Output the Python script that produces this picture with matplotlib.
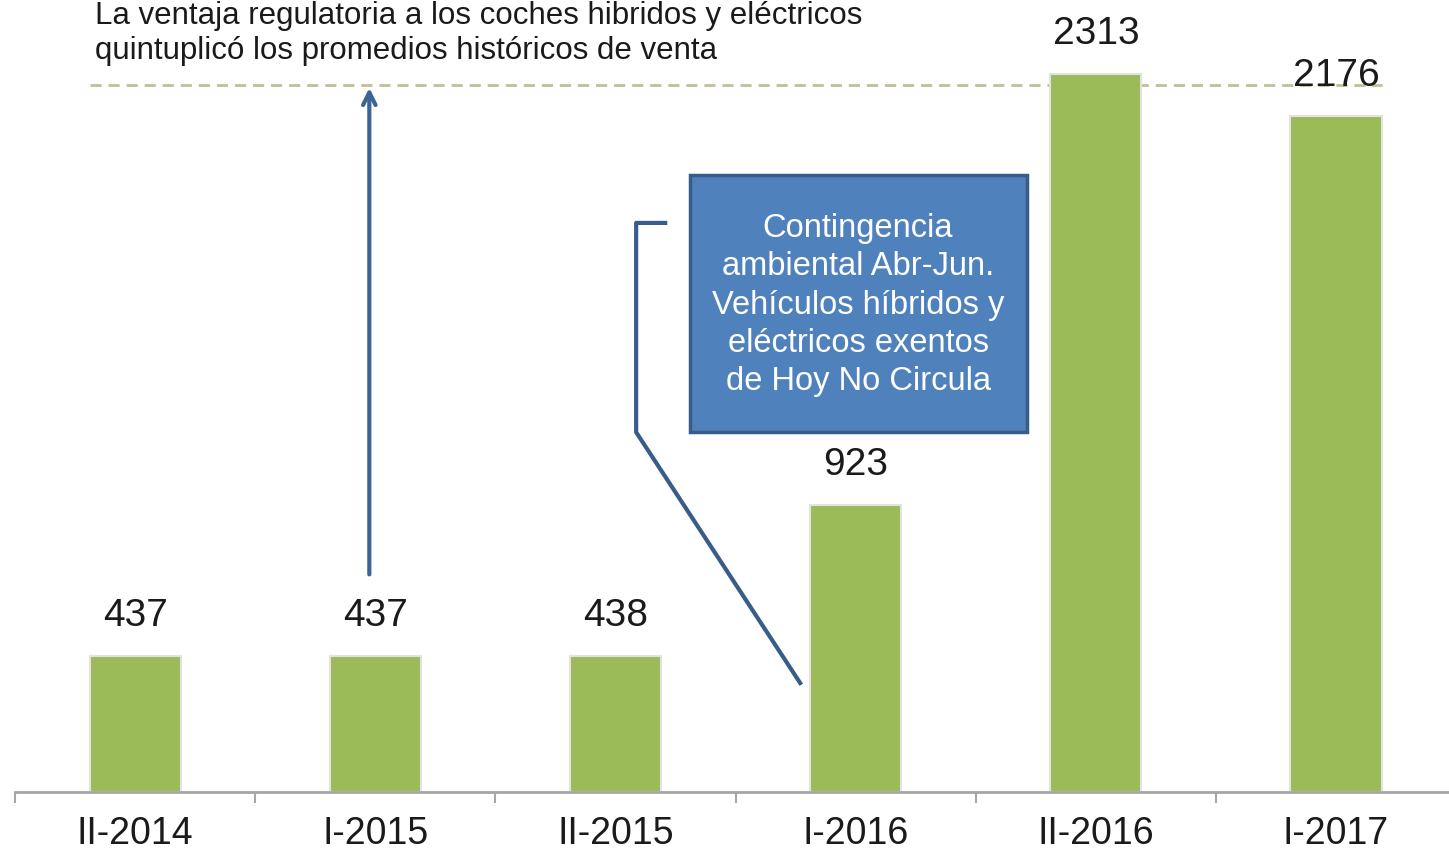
import matplotlib.pyplot as plt
import matplotlib.patches as mpatches

# ventas de híbridos y eléctricos por semestre
periodos = ["II-2014", "I-2015", "II-2015", "I-2016", "II-2016", "I-2017"]
ventas = [437, 437, 438, 923, 2313, 2176]

linea_ref = 2277  # nivel de la línea punteada (5x el promedio histórico)
titulo = "La ventaja regulatoria a los coches hibridos y eléctricos\nquintuplicó los promedios históricos de venta"
nota = "Contingencia\nambiental Abr-Jun.\nVehículos híbridos y\neléctricos exentos\nde Hoy No Circula"

plt.rcParams['font.family'] = ['Liberation Sans', 'DejaVu Sans']

fig = plt.figure(figsize=(14.49, 8.52), dpi=100)
ax = fig.add_axes([0.0104, 0.0704, 0.9945, 0.9296])

x = list(range(len(periodos)))
ax.bar(x, ventas, width=0.38, color='#9bbb59', edgecolor='#e2e2e2', linewidth=1.5, zorder=2)

for xi, v in zip(x, ventas):
    ax.text(xi, v + 72, str(v), ha='center', va='bottom', fontsize=28, color='#1a1a1a')

ax.set_xlim(-0.5, 5.5)
ax.set_ylim(0, 2551)

# línea punteada de referencia
ax.plot([-0.19, 5.19], [linea_ref, linea_ref], ls=(0, (4, 2.5)), color='#c4bd97', lw=2, zorder=1)

# flecha
ax.annotate('', xy=(0.975, linea_ref), xytext=(0.975, 692),
            arrowprops=dict(arrowstyle='->,head_length=0.9,head_width=0.45', color='#3c6494', lw=3))

# cuadro de nota
caja = mpatches.Rectangle((2.31, 1159), 3.714 - 2.31, 1987 - 1159, facecolor='#4f81bd',
                          edgecolor='#385d8a', linewidth=2.5, zorder=3)
ax.add_patch(caja)
ax.text(3.01, 1568, nota, ha='center', va='center', fontsize=23.5, color='white',
        linespacing=1.3, zorder=4)
ax.plot([2.207, 2.086, 2.086, 2.769], [1833, 1833, 1159, 351], color='#385d8a', lw=3, zorder=3)

# ejes
for s in ['top', 'right', 'left']:
    ax.spines[s].set_visible(False)
ax.spines['bottom'].set_color('#a6a6a6')
ax.spines['bottom'].set_linewidth(2)
ax.set_yticks([])
ax.set_xticks(x)
ax.set_xticklabels(periodos, fontsize=27, color='#1a1a1a')
ax.tick_params(axis='x', which='major', length=0, pad=17)
ax.set_xticks([i - 0.5 for i in range(len(periodos) + 1)], minor=True)
ax.tick_params(axis='x', which='minor', length=8, width=1.5, color='#a6a6a6')

fig.text(0.0656, 0.999, titulo, ha='left', va='top', fontsize=22.5, color='#1a1a1a',
         linespacing=1.22)

fig.savefig('out.png', dpi=100)
